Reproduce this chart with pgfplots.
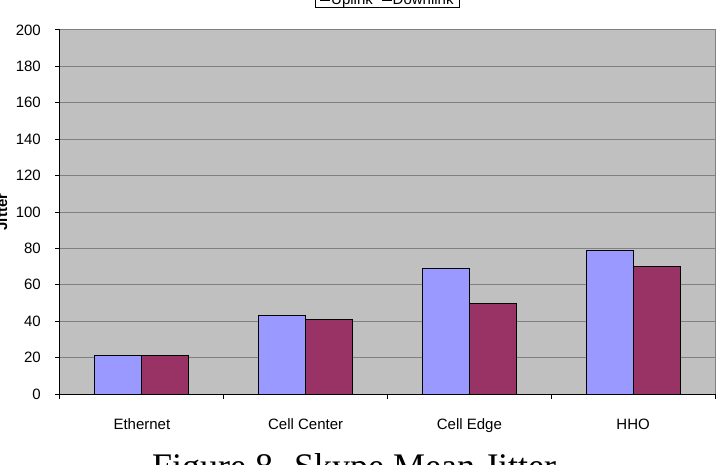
\documentclass[border=0pt]{standalone}
\usepackage{fontspec}
\setmainfont{Liberation Sans}
\newfontfamily\capfont{Liberation Serif}
\usepackage{pgfplots}
\pgfplotsset{compat=1.18}
\definecolor{up}{HTML}{9999FF}
\definecolor{down}{HTML}{993366}
\definecolor{plotbg}{HTML}{C0C0C0}
\definecolor{gridc}{HTML}{808080}
\begin{document}
\begin{tikzpicture}
\useasboundingbox (-60pt,-70pt) rectangle (658pt,394pt);
\begin{axis}[
  at={(0pt,0pt)}, anchor=south west,
  scale only axis, width=655pt, height=364pt,
  xmin=-0.5, xmax=3.5, ymin=0, ymax=200,
  ybar=0pt, bar width=47pt,
  axis x line*=bottom, axis y line*=left,
  axis line style={black, line width=1pt},
  xtick={0,1,2,3}, xticklabels={Ethernet,Cell Center,Cell Edge,HHO},
  major x tick style={draw=none},
  minor xtick={-0.5,0.5,1.5,2.5,3.5},
  ytick={0,20,...,200},
  tick align=outside, major tick length=5pt, minor tick length=5pt,
  tick style={black, line width=1pt},
  ymajorgrids, grid style={gridc, line width=1pt},
  axis background/.style={fill=plotbg, draw=gridc, line width=1pt},
  /pgf/number format/assume math mode=true,
  tick label style={font=\fontsize{15}{18}\selectfont},
  xticklabel style={anchor=base, yshift=-30pt},
  yticklabel style={anchor=east, inner sep=0pt, xshift=-14pt},
  ylabel={\bfseries Jitter},
  ylabel style={at={(axis description cs:-0.0809,0.5)}, anchor=base, font=\fontsize{15}{18}\selectfont},
  legend style={at={(0.5,1)}, anchor=south, yshift=23pt, draw=black, fill=white,
    font=\fontsize{15}{18}\selectfont, inner xsep=5pt, inner ysep=0pt,
    nodes={inner sep=1pt},
    /tikz/every even column/.append style={column sep=8pt}},
  legend columns=2,
  legend image code/.code={\draw[#1, draw=black, line width=0.8pt] (0pt,-1pt) rectangle (9pt,8pt);},
]
\addplot[fill=up, draw=black, line width=1pt] coordinates {(0,21) (1,43) (2,69) (3,79)};
\addplot[fill=down, draw=black, line width=1pt] coordinates {(0,21) (1,41) (2,50) (3,70)};
\legend{Uplink,Downlink}
\end{axis}
\node[anchor=base west, font=\capfont\fontsize{36}{40}\selectfont, inner sep=0pt] at (92pt,-84pt) {Figure 8. Skype Mean Jitter};
\end{tikzpicture}
\end{document}
